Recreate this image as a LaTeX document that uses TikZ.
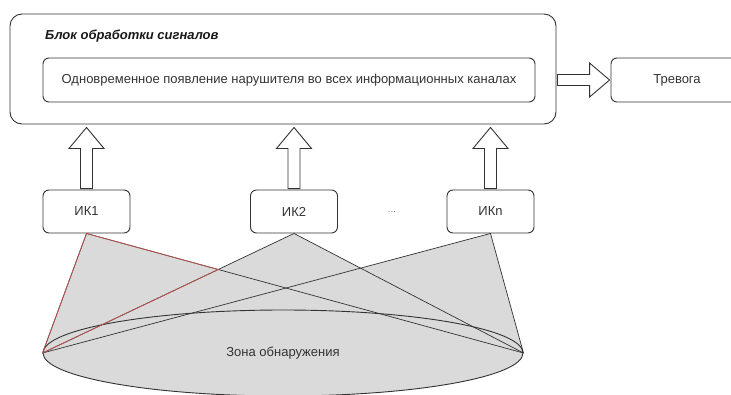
\documentclass[tikz,border=0pt]{standalone}
\usepackage{fontspec}
\setmainfont{Liberation Sans}
\usetikzlibrary{calc,shapes.geometric,backgrounds}

\definecolor{zonegray}{HTML}{DADADA}
\definecolor{edgered}{HTML}{C0504D}
\definecolor{linegray}{HTML}{333333}

\tikzset{
  box/.style={draw=linegray, line width=0.9pt, rounded corners=6pt, align=center,
    text=linegray, font=\fontsize{13}{15}\selectfont, inner sep=0pt},
  blockarrow/.style={draw=linegray, line width=0.9pt, fill=white, line join=miter},
  ray/.style={draw=linegray, line width=0.7pt},
}

\begin{document}
\begin{tikzpicture}[x=1pt,y=-1pt]
    \useasboundingbox (0,0) rectangle (731,394);
    % signal processing block
    \node[box, rounded corners=12pt, minimum width=546pt, minimum height=110pt] (proc) at (283,69) {};
    \node[anchor=west, inner sep=0pt, font=\bfseries\itshape\fontsize{13}{15}\selectfont, text=black!90] (proctitle) at (45,36) {Блок обработки сигналов};
    \node[box, minimum width=492pt, minimum height=44pt] (cond) at (289,80) {Одновременное появление нарушителя во всех информационных каналах};
    \node[box, minimum width=132pt, minimum height=44pt] (alarm) at (677,80) {Тревога};
    % channels
    \node[box, minimum width=87pt, minimum height=43pt] (ik1) at (86.5,211.5) {ИК1};
    \node[box, minimum width=87pt, minimum height=43pt] (ik2) at (294,211.5) {ИК2};
    \node[box, minimum width=87pt, minimum height=43pt] (ikn) at (490.5,211.5) {ИКn};
    \node[text=gray, font=\fontsize{10}{12}\selectfont] (dots) at (392,212) {...};
    % detection zone
    \node[ellipse, draw=linegray, line width=0.9pt, fill=zonegray, text=linegray,
      minimum width=480pt, minimum height=86pt, inner sep=0pt,
      font=\fontsize{13}{15}\selectfont] (zone) at (283,353) {Зона обнаружения};
    \begin{scope}[on background layer]
      \foreach \k in {ik1,ik2,ikn}
        \fill[zonegray] (zone.west) -- (\k.south) -- (zone.east) -- cycle;
    \end{scope}
    \foreach \k in {ik1,ik2,ikn}
      \draw[ray] (zone.west) -- (\k.south) -- (zone.east);
    \coordinate (redcross) at (intersection of ik1.south--zone.east and ik2.south--zone.west);
    \draw[ray, draw=edgered] (zone.west) -- (ik1.south) -- (redcross) -- cycle;
    % block arrows
    \foreach \k in {ik1,ik2,ikn}
      \draw[blockarrow] let \p1=(\k.north), \p2=(proc.south) in
        (\x1-6pt,\y1+1pt) -- (\x1-6pt,\y2-24pt) -- (\x1-17.5pt,\y2-24pt) -- (\x1,\y2-3pt)
        -- (\x1+17.5pt,\y2-24pt) -- (\x1+6pt,\y2-24pt) -- (\x1+6pt,\y1+1pt) -- cycle;
    \draw[blockarrow] let \p1=(proc.east |- alarm.west), \p2=(alarm.west) in
      (\x1+1pt,\y1+5.5pt) -- (\x2-21pt,\y1+5.5pt) -- (\x2-21pt,\y1+17pt) -- (\x2-1pt,\y1)
      -- (\x2-21pt,\y1-17pt) -- (\x2-21pt,\y1-5.5pt) -- (\x1+1pt,\y1-5.5pt) -- cycle;
\end{tikzpicture}
\end{document}
